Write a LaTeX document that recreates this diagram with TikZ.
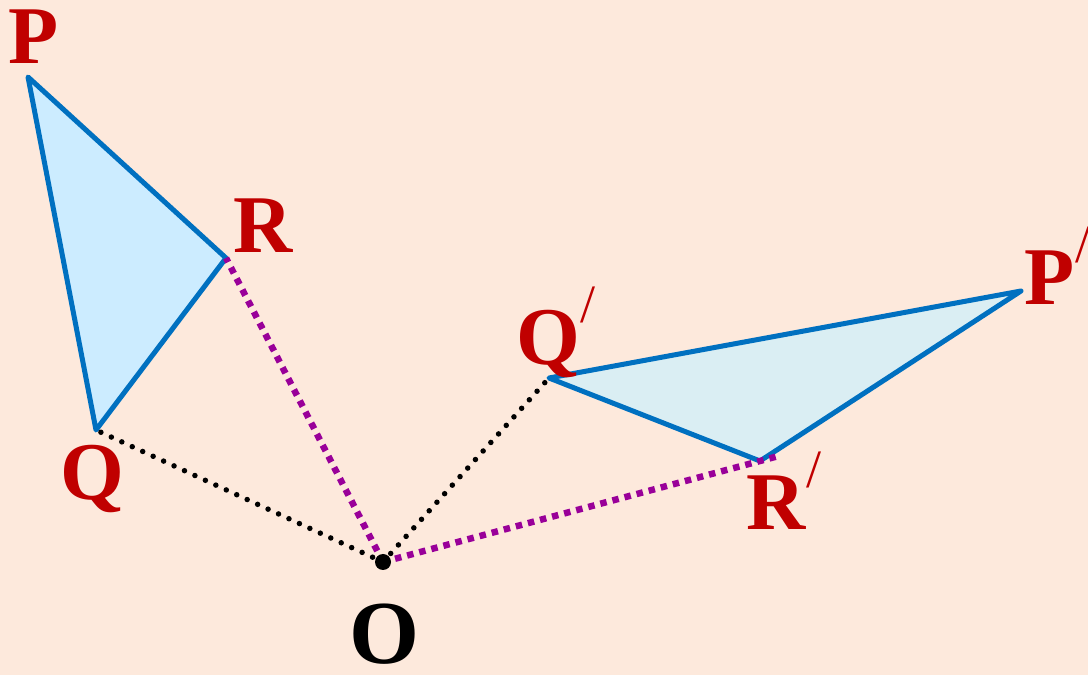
\documentclass[tikz,border=0pt]{standalone}
\usepackage{fontspec}
\setmainfont{Liberation Serif}[BoldFont=Liberation Serif Bold]
\usetikzlibrary{calc}
\definecolor{bg}{HTML}{FDE9DC}
\definecolor{lab}{HTML}{C00000}
\definecolor{edge}{HTML}{0070C0}
\definecolor{fillL}{HTML}{CCECFF}
\definecolor{fillR}{HTML}{DAEEF3}
\definecolor{purp}{HTML}{990099}
\newcommand{\primemark}{\raisebox{42pt}{\fontsize{54}{54}\selectfont\mdseries\kern1pt/}}
\begin{document}
\begin{tikzpicture}[x=1pt,y=1pt,
  tri/.style={draw=edge,line width=5pt,line join=round},
  blackdots/.style={draw=black,line width=5.5pt,line cap=round,dash pattern=on 0pt off 11.5pt},
  purpdots/.style={draw=purp,line width=6.5pt,line cap=butt,dash pattern=on 6.5pt off 6pt},
  lbl/.style={anchor=base west,inner sep=0pt,outer sep=0pt,text=lab,font=\fontsize{82}{82}\selectfont\bfseries}]
\fill[bg] (0,0) rectangle (1088,675);
\useasboundingbox (0,0) rectangle (1088,675);
\coordinate (P) at (28,598);
\coordinate (R) at (226,417);
\coordinate (Q) at (96,245);
\coordinate (O) at (383,113);
\coordinate (Qp) at (549,297);
\coordinate (Pp) at (1021,384);
\coordinate (Rp) at (760,214);
\coordinate (Rpx) at ($(O)!1.055!(Rp)$);
\filldraw[tri,fill=fillL] (P) -- (R) -- (Q) -- cycle;
\filldraw[tri,fill=fillR] (Qp) -- (Pp) -- (Rp) -- cycle;
\draw[blackdots] (O) -- (Q);
\draw[blackdots] (O) -- (Qp);
\draw[purpdots] (O) -- (R);
\draw[purpdots] (O) -- (Rpx);
\fill[black] (O) circle (8);
\node[lbl] (lP) at (9,611) {P};
\node[lbl] (lR) at (233,422) {R};
\node[lbl] (lQ) at (60,175) {Q};
\node[lbl,text=black,font=\fontsize{90}{90}\selectfont\bfseries] (lO) at (349,11) {O};
\node[lbl] (lQp) at (516,310) {Q\primemark};
\node[lbl] (lRp) at (746,145) {R\primemark};
\node[lbl] (lPp) at (1024,370) {P\primemark};
\end{tikzpicture}
\end{document}
